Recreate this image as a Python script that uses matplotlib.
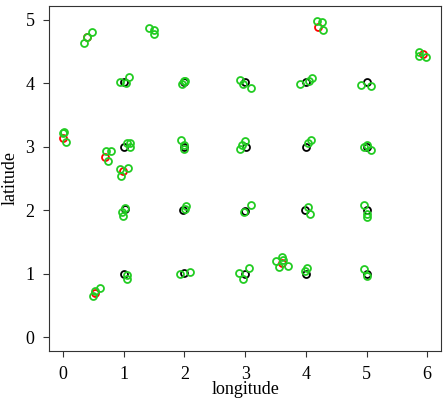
import matplotlib
matplotlib.use("Agg")
import matplotlib.pyplot as plt

# grid stations (black)
black_x = [1.00, 2.00, 3.00, 4.00, 5.00,
           1.02, 1.98, 3.00, 3.99, 5.00,
           1.01, 2.00, 3.02, 4.00, 5.00,
           1.01, 2.00, 3.00, 4.00, 5.00]
black_y = [1.00, 1.01, 1.00, 1.00, 1.00,
           2.01, 2.00, 1.99, 2.00, 2.00,
           3.00, 3.00, 3.00, 3.00, 3.00,
           4.02, 4.02, 4.02, 4.01, 4.02]

# off-grid stations (red)
red_x = [0.40, 4.20, 5.93, 0.00, 0.69, 0.99, 0.52, 3.60]
red_y = [4.72, 4.88, 4.46, 3.13, 2.84, 2.62, 0.70, 1.17]

# perturbed samples (green)
green_x = [0.48, 0.40, 0.34,
           1.42, 1.49, 1.49,
           4.18, 4.27, 4.29,
           5.86, 5.86, 5.98,
           0.93, 1.04, 1.08,
           1.96, 2.00, 2.01,
           2.92, 2.97, 3.09,
           3.91, 4.05, 4.10,
           4.91, 5.08,
           0.00, 0.02, 0.05,
           0.71, 0.79, 0.74,
           0.93, 1.07, 0.96,
           1.06, 1.10, 1.10,
           1.94, 1.99, 2.00,
           3.00, 2.95, 2.92,
           4.04, 4.08,
           4.95, 5.00, 5.08,
           0.97, 0.98, 1.02,
           2.03, 2.01,
           3.09, 2.98,
           4.03, 4.07,
           4.96, 5.00, 5.00,
           0.61, 0.53, 0.50,
           1.06, 1.05,
           1.93, 2.09,
           2.89, 2.97, 3.07,
           3.51, 3.60, 3.63, 3.70, 3.55,
           4.02, 3.98,
           4.95, 5.00]
green_y = [4.81, 4.72, 4.63,
           4.87, 4.83, 4.77,
           4.97, 4.96, 4.83,
           4.49, 4.42, 4.41,
           4.02, 4.00, 4.10,
           3.99, 4.03, 4.04,
           4.05, 3.98, 3.93,
           3.98, 4.04, 4.08,
           3.97, 3.95,
           3.21, 3.23, 3.07,
           2.93, 2.93, 2.77,
           2.64, 2.67, 2.53,
           3.05, 3.06, 2.99,
           3.11, 3.03, 2.96,
           3.08, 3.03, 2.96,
           3.05, 3.11,
           3.00, 3.02, 2.94,
           1.97, 1.91, 2.03,
           2.07, 2.02,
           2.08, 1.97,
           2.05, 1.94,
           2.08, 1.94, 1.89,
           0.78, 0.73, 0.64,
           0.97, 0.91,
           0.99, 1.03,
           1.01, 0.91, 1.09,
           1.19, 1.26, 1.21, 1.12, 1.10,
           1.08, 1.04,
           1.07, 0.96]

xticks = [0, 1, 2, 3, 4, 5, 6]
yticks = [0, 1, 2, 3, 4, 5]

plt.rcParams['font.family'] = ['Liberation Serif', 'DejaVu Serif']
fig = plt.figure(figsize=(4.47, 4.0), dpi=100)
ax = fig.add_axes([0.11, 0.1225, 0.877, 0.8635])

mk = dict(marker='o', linestyle='none', markersize=5, markerfacecolor='none', markeredgewidth=1.3)
ax.plot(black_x, black_y, markeredgecolor='black', **mk)
ax.plot(red_x, red_y, markeredgecolor='red', **mk)
ax.plot(green_x, green_y, markeredgecolor='#22cc22', **mk)

ax.set_xlim(-0.23, 6.23)
ax.set_ylim(-0.22, 5.22)
ax.set_xticks(xticks)
ax.set_yticks(yticks)
ax.tick_params(direction='out', length=4.5, labelsize=13, width=0.8, pad=6, colors='#333333', labelcolor='black')
ax.set_xlabel('longitude', fontsize=13, labelpad=-1)
ax.set_ylabel('latitude', fontsize=13, labelpad=5)
for s in ax.spines.values():
    s.set_linewidth(0.8)
    s.set_color('#333333')

fig.savefig('out.png', dpi=100)
